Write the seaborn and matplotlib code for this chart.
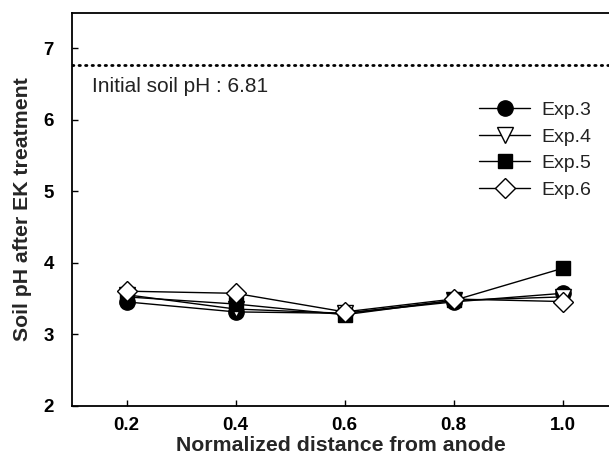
import matplotlib
matplotlib.use("Agg")
import matplotlib.pyplot as plt
import seaborn as sns
import pandas as pd

distance = [0.2, 0.4, 0.6, 0.8, 1.0]
exp3 = [3.45, 3.31, 3.29, 3.45, 3.57]
exp4 = [3.55, 3.35, 3.29, 3.47, 3.52]
exp5 = [3.52, 3.42, 3.27, 3.47, 3.92]
exp6 = [3.60, 3.57, 3.31, 3.49, 3.455]
series_names = ["Exp.3", "Exp.4", "Exp.5", "Exp.6"]
initial_ph_line = 6.76
initial_label = "Initial soil pH : 6.81"
xticks = [0.2, 0.4, 0.6, 0.8, 1.0]
yticks = [2, 3, 4, 5, 6, 7]

sns.set_style("ticks")
plt.rcParams['font.family'] = ['Liberation Sans', 'DejaVu Sans']

fig = plt.figure(figsize=(6.09, 4.57), dpi=100)
ax = fig.add_axes([72/609, 1 - 405.5/457, (609 - 72)/609, (405.5 - 12.5)/457])

df = pd.DataFrame({
    "x": distance * 4,
    "y": exp3 + exp4 + exp5 + exp6,
    "exp": sum([[n] * len(distance) for n in series_names], []),
})

styles = {
    "Exp.3": dict(marker="o", mfc="black", ms=11),
    "Exp.4": dict(marker="v", mfc="white", ms=11),
    "Exp.5": dict(marker="s", mfc="black", ms=10),
    "Exp.6": dict(marker="D", mfc="white", ms=10),
}
handles = []
for name in series_names:
    sub = df[df["exp"] == name]
    st = styles[name]
    sns.lineplot(data=sub, x="x", y="y", ax=ax, color="black", lw=1.0,
                 marker=st["marker"], markersize=st["ms"],
                 markerfacecolor=st["mfc"], markeredgecolor="black",
                 markeredgewidth=1.0, label=name, legend=False)
    handles.append(ax.lines[-1])

ax.axhline(initial_ph_line, color="black", lw=2.0, ls=(0, (0.5, 1.85)),
           dash_capstyle="round")
ax.text(0.137, 6.47, initial_label, fontsize=15, va="center", ha="left",
        color="#222222")

ax.set_xlim(0.1, 0.2 + (609 - 126.7) / 545)
ax.set_ylim(2, 7.5)
ax.set_xticks(xticks)
ax.set_xticklabels([f"{v:.1f}" for v in xticks], fontweight="bold", fontsize=13.5)
ax.set_yticks(yticks)
ax.set_yticklabels([str(v) for v in yticks], fontweight="bold", fontsize=13.5)
ax.tick_params(axis="x", direction="in", length=4, width=1, pad=8, colors="black")
ax.tick_params(axis="y", direction="in", length=4, width=1, pad=13, colors="black")
ax.set_xlabel("Normalized distance from anode", fontsize=15.3, fontweight="bold", labelpad=2)
ax.set_ylabel("Soil pH after EK treatment", fontsize=15.3, fontweight="bold", labelpad=8)
ax.spines["right"].set_visible(False)
for s in ["left", "bottom", "top"]:
    ax.spines[s].set_linewidth(1.3)
    ax.spines[s].set_color("black")

leg = ax.legend(handles, series_names, loc="upper right", bbox_to_anchor=(1.0, 0.818),
                frameon=False, fontsize=14, handlelength=2.6, labelspacing=0.46,
                handletextpad=0.6)
for t in leg.get_texts():
    t.set_color("#222222")

fig.savefig("out.png", dpi=100)
